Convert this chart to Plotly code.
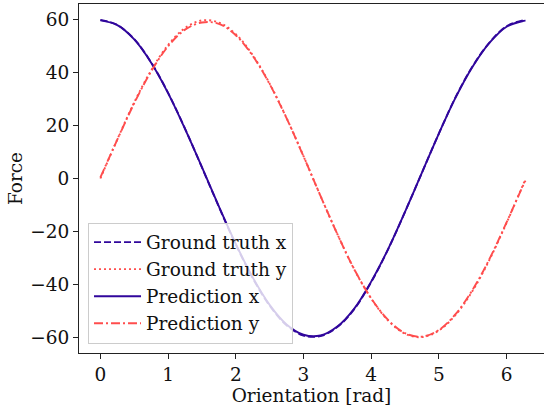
import plotly.graph_objects as go

# Orientation samples [rad]
orientation = [0.0, 0.25, 0.5, 0.75, 1.0, 1.25, 1.5, 1.75, 2.0, 2.25, 2.5, 2.75, 3.0,
               3.25, 3.5, 3.75, 4.0, 4.25, 4.5, 4.75, 5.0, 5.25, 5.5, 5.75, 6.0, 6.25, 6.28]

gt_x = [60.0, 58.1, 52.7, 43.9, 32.4, 18.9, 4.2, -10.7, -25.0, -37.7, -48.1, -55.5, -59.4,
        -59.6, -56.2, -49.4, -39.2, -26.8, -12.6, 2.2, 17.0, 30.9, 42.5, 51.5, 57.6, 59.9, 60.0]
gt_y = [0.0, 14.8, 28.8, 40.9, 50.5, 56.9, 59.8, 59.0, 54.6, 46.7, 35.9, 22.9, 8.5,
        -6.5, -21.0, -34.4, -45.4, -53.7, -58.7, -60.0, -57.5, -51.5, -42.4, -30.6, -16.8, -2.0, -0.2]
pred_x = [59.8, 58.0, 52.6, 43.8, 32.3, 18.8, 4.3, -10.5, -24.7, -37.4, -47.8, -55.2, -59.1,
          -59.4, -56.0, -49.2, -39.0, -26.7, -12.6, 2.2, 17.0, 30.8, 42.4, 51.4, 57.4, 59.6, 59.7]
pred_y = [0.4, 14.7, 28.5, 40.5, 50.0, 56.3, 59.0, 58.5, 54.2, 46.4, 35.7, 22.8, 8.4,
          -6.5, -21.0, -34.3, -45.3, -53.5, -58.5, -59.8, -57.3, -51.2, -42.0, -30.3, -16.6, -2.3, -0.8]

series_names = ["Ground truth x", "Ground truth y", "Prediction x", "Prediction y"]

PURPLE = "#30069c"
RED = "#ff4d4d"
FONT = "DejaVu Serif"
FS = 18.5

fig = go.Figure()
fig.add_trace(go.Scatter(x=orientation, y=gt_x, mode="lines", name=series_names[0],
                         line=dict(color=PURPLE, width=1.9, dash="7px,3px", shape="spline"),
                         legendgroup="a"))
fig.add_trace(go.Scatter(x=orientation, y=gt_y, mode="lines", name=series_names[1],
                         line=dict(color=RED, width=1.9, dash="2px,3px", shape="spline"),
                         legendgroup="b"))
fig.add_trace(go.Scatter(x=orientation, y=pred_x, mode="lines", name=series_names[2],
                         line=dict(color=PURPLE, width=1.9, shape="spline"),
                         legendgroup="c"))
fig.add_trace(go.Scatter(x=orientation, y=pred_y, mode="lines", name=series_names[3],
                         line=dict(color=RED, width=1.9, dash="9px,3px,2px,3px", shape="spline"),
                         legendgroup="d"))

axis_common = dict(
    showgrid=False, zeroline=False, showline=True, linecolor="#222", linewidth=1,
    ticks="outside", ticklen=5, tickwidth=1, tickcolor="#222", automargin=False,
    tickfont=dict(family=FONT, size=FS, color="#111"),
)

fig.update_layout(
    width=544, height=407,
    margin=dict(l=79, r=0, t=4, b=54),
    paper_bgcolor="white", plot_bgcolor="white",
    font=dict(family=FONT, size=FS, color="#111"),
    xaxis=dict(range=[-0.316, 6.553], tickvals=[0, 1, 2, 3, 4, 5, 6], mirror=True,
               title=dict(text="Orientation [rad]", font=dict(family=FONT, size=FS), standoff=4),
               **axis_common),
    yaxis=dict(range=[-66, 66], tickvals=[-60, -40, -20, 0, 20, 40, 60],
               title=dict(text="Force", font=dict(family=FONT, size=FS), standoff=2),
               **axis_common),
    legend=dict(x=0.0194, y=0.027, xanchor="left", yanchor="bottom",
                bgcolor="rgba(255,255,255,0.8)", bordercolor="#cccccc", borderwidth=1,
                font=dict(family=FONT, size=FS, color="#111"), itemwidth=47,
                traceorder="grouped", tracegroupgap=0),
    showlegend=True,
)

fig.write_html("out.html", config={"displayModeBar": False},
               post_script="document.body.style.margin='0';document.body.style.overflow='hidden';")
